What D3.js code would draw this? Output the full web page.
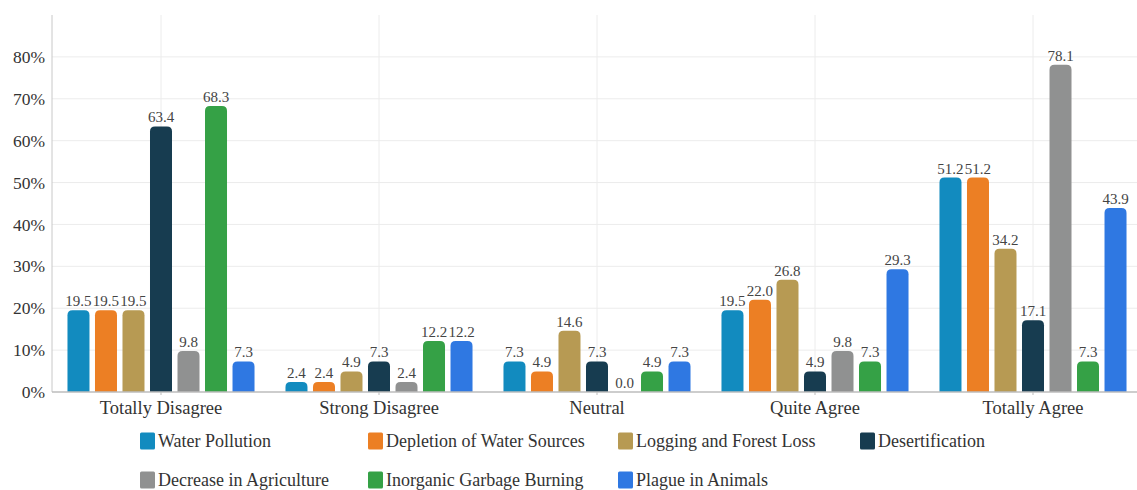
<!DOCTYPE html>
<html>
<head>
<meta charset="utf-8">
<script src="https://cdn.jsdelivr.net/npm/d3@7"></script>
<style>
  html, body { margin: 0; padding: 0; background: #fff; }
  svg { display: block; }
</style>
</head>
<body>
<svg id="chart" width="1137" height="490"></svg>
<script>
// Survey response categories (x axis)
const categories = ["Totally Disagree", "Strong Disagree", "Neutral", "Quite Agree", "Totally Agree"];

// Environmental problem series, percentage of respondents per category
const seriesNames = [
  "Water Pollution",
  "Depletion of Water Sources",
  "Logging and Forest Loss",
  "Desertification",
  "Decrease in Agriculture",
  "Inorganic Garbage Burning",
  "Plague in Animals"
];
const waterPollution      = [19.5, 2.4, 7.3, 19.5, 51.2];
const depletionWater      = [19.5, 2.4, 4.9, 22.0, 51.2];
const loggingForest       = [19.5, 4.9, 14.6, 26.8, 34.2];
const desertification     = [63.4, 7.3, 7.3, 4.9, 17.1];
const decreaseAgriculture = [9.8, 2.4, 0.0, 9.8, 78.1];
const garbageBurning      = [68.3, 12.2, 4.9, 7.3, 7.3];
const plagueAnimals       = [7.3, 12.2, 7.3, 29.3, 43.9];

const seriesValues = [waterPollution, depletionWater, loggingForest, desertification,
                      decreaseAgriculture, garbageBurning, plagueAnimals];
const seriesColors = ["#128bbf", "#ec7f24", "#b79a53", "#173c50", "#909191", "#35a146", "#2f78e2"];

// Y axis ticks (percent)
const yTicks = [0, 10, 20, 30, 40, 50, 60, 70, 80];

const FONT = "Liberation Serif";

const svg = d3.select("#chart");
const margin = { left: 52, top: 15, bottom: 392, right: 1142 };

const x0 = d3.scaleBand().domain(categories).range([margin.left, margin.right])
  .paddingInner(0.142).paddingOuter(0.071);
const x1 = d3.scaleBand().domain(seriesNames).range([0, x0.bandwidth()]).paddingInner(0.2);
const y = d3.scaleLinear().domain([0, 90]).range([margin.bottom, margin.top]);

// Horizontal gridlines
svg.append("g").selectAll("line").data(yTicks.slice(1)).join("line")
  .attr("x1", margin.left).attr("x2", margin.right)
  .attr("y1", d => y(d)).attr("y2", d => y(d))
  .attr("stroke", "#ececec").attr("stroke-width", 1);

// Vertical gridlines at category centres
svg.append("g").selectAll("line").data(categories).join("line")
  .attr("x1", d => x0(d) + x0.bandwidth() / 2).attr("x2", d => x0(d) + x0.bandwidth() / 2)
  .attr("y1", margin.top).attr("y2", margin.bottom)
  .attr("stroke", "#ececec").attr("stroke-width", 1);

// Y axis
const yAxis = svg.append("g").attr("transform", `translate(${margin.left},0)`)
  .call(d3.axisLeft(y).tickValues(yTicks).tickFormat(d => d + "%").tickSize(0).tickPadding(7));
yAxis.select(".domain").remove();
yAxis.attr("font-family", FONT);
yAxis.selectAll("text").attr("font-family", FONT).attr("font-size", 17.5).attr("fill", "#333");
svg.append("line").attr("x1", margin.left).attr("x2", margin.left)
  .attr("y1", margin.top).attr("y2", margin.bottom).attr("stroke", "#c8c8c8");

// Rounded-top bar path
function barPath(xPos, w, v) {
  const top = y(v), base = y(0);
  const h = base - top;
  const r = Math.min(5, h, w / 2);
  return `M${xPos},${base}V${top + r}Q${xPos},${top} ${xPos + r},${top}H${xPos + w - r}Q${xPos + w},${top} ${xPos + w},${top + r}V${base}Z`;
}

const flat = [];
categories.forEach((c, ci) => {
  seriesNames.forEach((s, si) => flat.push({ cat: c, series: s, value: seriesValues[si][ci], color: seriesColors[si] }));
});

const groups = svg.append("g");
groups.selectAll("path").data(flat.filter(d => d.value > 0)).join("path")
  .attr("d", d => barPath(x0(d.cat) + x1(d.series), x1.bandwidth(), d.value))
  .attr("fill", d => d.color);

// Value labels
groups.selectAll("text").data(flat).join("text")
  .attr("x", d => x0(d.cat) + x1(d.series) + x1.bandwidth() / 2)
  .attr("y", d => y(d.value) - 4)
  .attr("text-anchor", "middle")
  .attr("font-family", FONT).attr("font-size", 15).attr("fill", "#444")
  .text(d => d.value.toFixed(1));

// X axis baseline and labels
svg.append("line").attr("x1", margin.left).attr("x2", margin.right)
  .attr("y1", y(0)).attr("y2", y(0)).attr("stroke", "#bdbdbd").attr("stroke-width", 1.5);
const xAxis = svg.append("g").attr("transform", `translate(0,${y(0)})`)
  .call(d3.axisBottom(x0).tickSize(3).tickPadding(6));
xAxis.select(".domain").remove();
xAxis.attr("font-family", FONT);
xAxis.selectAll(".tick line").attr("stroke", "#bdbdbd");
xAxis.selectAll("text").attr("font-family", FONT).attr("font-size", 18.5).attr("fill", "#333");

// Legend
const legendCols = [140, 368, 618, 860];
const legendRows = [441, 480];
const legend = svg.append("g").selectAll("g").data(seriesNames).join("g")
  .attr("transform", (d, i) => `translate(${legendCols[i % 4]},${legendRows[Math.floor(i / 4)]})`);
legend.append("rect").attr("x", 0).attr("y", -8.5).attr("width", 15).attr("height", 17)
  .attr("rx", 1.5).attr("fill", (d, i) => seriesColors[i]);
legend.append("text").attr("x", 18).attr("y", 0).attr("dy", "0.35em")
  .attr("font-family", FONT).attr("font-size", 18).attr("fill", "#333").text(d => d);
</script>
</body>
</html>
